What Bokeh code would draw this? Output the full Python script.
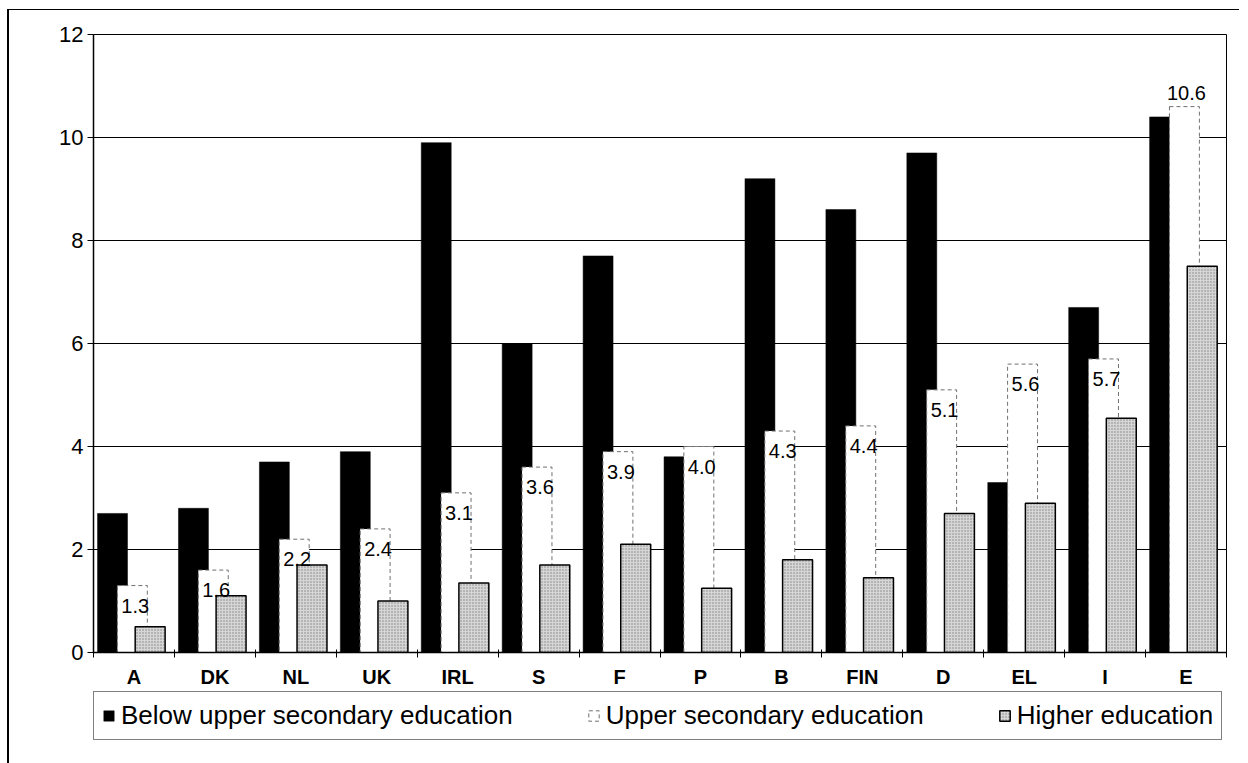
import numpy as np
from bokeh.plotting import figure
from bokeh.layouts import column
from bokeh.models import (ColumnDataSource, FixedTicker, Legend, LegendItem, Range1d)
from bokeh.embed import file_html
from bokeh.resources import INLINE
from bokeh.core.properties import value

# ---- data ----
countries = ["A", "DK", "NL", "UK", "IRL", "S", "F", "P", "B", "FIN", "D", "EL", "I", "E"]
below = [2.7, 2.8, 3.7, 3.9, 9.9, 6.0, 7.7, 3.8, 9.2, 8.6, 9.7, 3.3, 6.7, 10.4]
upper = [1.3, 1.6, 2.2, 2.4, 3.1, 3.6, 3.9, 4.0, 4.3, 4.4, 5.1, 5.6, 5.7, 10.6]
higher = [0.5, 1.1, 1.7, 1.0, 1.35, 1.7, 2.1, 1.25, 1.8, 1.45, 2.7, 2.9, 4.55, 7.5]
y_ticks = [0, 2, 4, 6, 8, 10, 12]
series_names = ["Below upper secondary education", "Upper secondary education", "Higher education"]

FONT = "Liberation Sans"
BAR_W = 0.37
OFF = [0.235, 0.48, 0.70]   # overlapping bar centres inside each category slot

STYLE_BELOW = dict(fill_color="black", line_color="black", line_width=0.5)
STYLE_UPPER = dict(fill_color="white", line_color="#707070", line_dash="4 3", line_width=1)
STYLE_HIGHER = dict(fill_color="#d6d6d6", line_color="black", line_width=1.5,
                    hatch_pattern="dot", hatch_color="#3a3a3a", hatch_scale=3,
                    hatch_weight=1, hatch_alpha=0.55)

idx = np.arange(len(countries))
src = ColumnDataSource(dict(
    country=countries, below=below, upper=upper, higher=higher,
    x_below=idx + OFF[0], x_upper=idx + OFF[1], x_higher=idx + OFF[2],
))

p = figure(width=1230, height=680,
           x_range=Range1d(0, len(countries)), y_range=Range1d(0, 12),
           output_backend="svg", toolbar_location=None,
           min_border_left=84, min_border_right=13, min_border_top=24, min_border_bottom=37,
           background_fill_color="white", border_fill_color="white")

p.outline_line_color = "black"
p.outline_line_width = 1

# grid
p.xgrid.visible = False
p.ygrid.ticker = FixedTicker(ticks=y_ticks, minor_ticks=[])
p.ygrid.grid_line_color = "black"
p.ygrid.grid_line_width = 1

# y axis
p.yaxis.ticker = FixedTicker(ticks=y_ticks, minor_ticks=[])
p.yaxis.major_tick_out = 6
p.yaxis.major_tick_in = 0
p.yaxis.minor_tick_line_color = None
p.yaxis.axis_line_color = "black"
p.yaxis.axis_line_width = 1.5
p.yaxis.major_label_text_font = FONT
p.yaxis.major_label_text_font_size = "22px"
p.yaxis.major_label_text_color = "black"
p.yaxis.major_label_standoff = 4

# x axis: labels at slot centres, ticks at slot boundaries
centres = [float(i) + 0.5 for i in idx]
p.xaxis.ticker = FixedTicker(ticks=centres, minor_ticks=list(range(len(countries) + 1)))
p.xaxis.major_label_overrides = {c: n for c, n in zip(centres, countries)}
p.xaxis.major_tick_line_color = None
p.xaxis.major_tick_in = 0
p.xaxis.major_tick_out = 0
p.xaxis.minor_tick_in = 3
p.xaxis.minor_tick_out = 5
p.xaxis.minor_tick_line_color = "black"
p.xaxis.axis_line_color = "black"
p.xaxis.axis_line_width = 1.5
p.xaxis.major_label_text_font = FONT
p.xaxis.major_label_text_font_size = "20px"
p.xaxis.major_label_text_font_style = "bold"
p.xaxis.major_label_text_color = "black"
p.xaxis.major_label_standoff = 8

# bars
p.vbar(x="x_below", top="below", bottom=0, width=BAR_W, source=src, **STYLE_BELOW)
p.vbar(x="x_upper", top="upper", bottom=0, width=BAR_W, source=src, **STYLE_UPPER)
p.vbar(x="x_higher", top="higher", bottom=0, width=BAR_W, source=src, **STYLE_HIGHER)

# value labels for the upper-secondary series
inside = [i for i, v in enumerate(upper) if v < 10]
outside = [i for i, v in enumerate(upper) if v >= 10]
src_in = ColumnDataSource(dict(
    x=[idx[i] + OFF[1] - BAR_W / 2 for i in inside],
    y=[upper[i] for i in inside],
    t=[f"{upper[i]:.1f}" for i in inside]))
src_out = ColumnDataSource(dict(
    x=[idx[i] + OFF[1] for i in outside],
    y=[upper[i] for i in outside],
    t=[f"{upper[i]:.1f}" for i in outside]))
p.text(x="x", y="y", text="t", source=src_in, text_font=value(FONT), text_font_size="20px",
       text_color="black", text_align="left", text_baseline="middle", x_offset=4, y_offset=20)
p.text(x="x", y="y", text="t", source=src_out, text_font=value(FONT), text_font_size="20px",
       text_color="black", text_align="center", text_baseline="bottom", x_offset=2, y_offset=-7)

# ---- legend strip (separate figure below the chart, frame aligned with the chart) ----
q = figure(width=1230, height=73, x_range=Range1d(0, len(countries)), y_range=Range1d(0, 12),
           output_backend="svg", toolbar_location=None,
           x_axis_type=None, y_axis_type=None,
           min_border_left=84, min_border_right=13, min_border_top=0, min_border_bottom=0,
           background_fill_color="white", border_fill_color="white")
q.grid.visible = False
q.outline_line_color = None
# hidden copies of the series, only used to draw the legend swatches
l1 = q.vbar(x="x_below", top="below", width=BAR_W, source=src, visible=False, **STYLE_BELOW)
l2 = q.vbar(x="x_upper", top="upper", width=BAR_W, source=src, visible=False, **STYLE_UPPER)
l3 = q.vbar(x="x_higher", top="higher", width=BAR_W, source=src, visible=False, **STYLE_HIGHER)

legend = Legend(items=[LegendItem(label=series_names[0], renderers=[l1]),
                       LegendItem(label=series_names[1], renderers=[l2]),
                       LegendItem(label=series_names[2], renderers=[l3])],
                orientation="horizontal", location=(0, 23),
                label_text_font=FONT, label_text_font_size="26px", label_text_color="black",
                glyph_width=13, glyph_height=13, label_standoff=6, spacing=74,
                padding=8, margin=0,
                inactive_fill_alpha=0.0,
                border_line_color="black", border_line_width=1.5,
                background_fill_color="white", background_fill_alpha=1.0)
q.add_layout(legend, "center")

layout = column(p, q, spacing=0)
layout.styles = {"margin-left": "7px", "margin-top": "9px",
                 "border-left": "2px solid black", "border-top": "1px solid black"}

open("out.html", "w").write(file_html(layout, INLINE))
